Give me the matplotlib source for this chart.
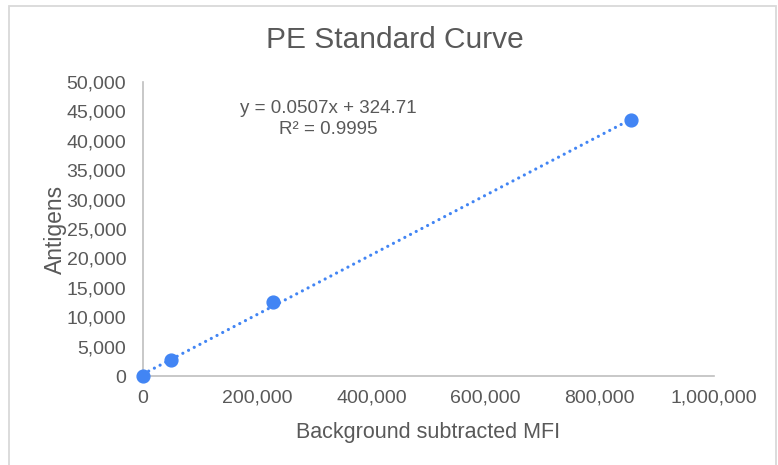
import matplotlib.pyplot as plt
import numpy as np
from matplotlib.patches import Rectangle
from matplotlib.ticker import FuncFormatter

# values
mfi = [0, 49000, 228000, 855000]
antigens = [0, 2700, 12600, 43600]
slope = 0.0507
intercept = 324.71
r_squared = 0.9995
x_ticks = [0, 200000, 400000, 600000, 800000, 1000000]
y_ticks = [0, 5000, 10000, 15000, 20000, 25000, 30000, 35000, 40000, 45000, 50000]

plt.rcParams['font.family'] = ['Liberation Sans', 'DejaVu Sans']
text_color = '#595959'
blue = '#4285F4'

fig = plt.figure(figsize=(7.78, 4.65), dpi=100)
ax = fig.add_axes([143 / 778, 1 - 376 / 465, 571 / 778, 294 / 465])

# chart area border
fig.patches.append(Rectangle((9 / 778, -0.02), 767 / 778, 1 - 5.5 / 465 + 0.02,
                             transform=fig.transFigure, fill=False,
                             edgecolor='#d9d9d9', linewidth=1.3))

trend_x = np.array([0, max(mfi)])
ax.plot(trend_x, slope * trend_x + intercept, color=blue, linestyle=(0, (0.01, 2.0)),
        linewidth=2.3, dash_capstyle='round', zorder=2)
ax.scatter(mfi, antigens, s=85, color=blue, zorder=3, clip_on=False)

ax.set_xlim(0, 1000000)
ax.set_ylim(0, 50000)
ax.set_xticks(x_ticks)
ax.set_yticks(y_ticks)
fmt = FuncFormatter(lambda v, p: f'{int(v):,}')
ax.xaxis.set_major_formatter(fmt)
ax.yaxis.set_major_formatter(fmt)
ax.tick_params(length=0, labelsize=14, colors=text_color, pad=10)
ax.tick_params(axis='y', pad=12)

for side in ['top', 'right']:
    ax.spines[side].set_visible(False)
for side in ['left', 'bottom']:
    ax.spines[side].set_color('#bfbfbf')
    ax.spines[side].set_linewidth(1.2)

ax.set_xlabel('Background subtracted MFI', fontsize=15.5, color=text_color, labelpad=11)
ax.set_ylabel('Antigens', fontsize=16.5, color=text_color, labelpad=0)
fig.text(395 / 778, 1 - 40 / 465, 'PE Standard Curve', fontsize=21.5, color=text_color,
         ha='center', va='center')

ax.text(328 / 778, 1 - 119 / 465,
        f'y = {slope}x + {intercept}\nR\u00b2 = {r_squared}',
        transform=fig.transFigure, fontsize=13.5, color=text_color,
        ha='center', va='center', linespacing=1.3)

fig.savefig('out.png', dpi=100)
